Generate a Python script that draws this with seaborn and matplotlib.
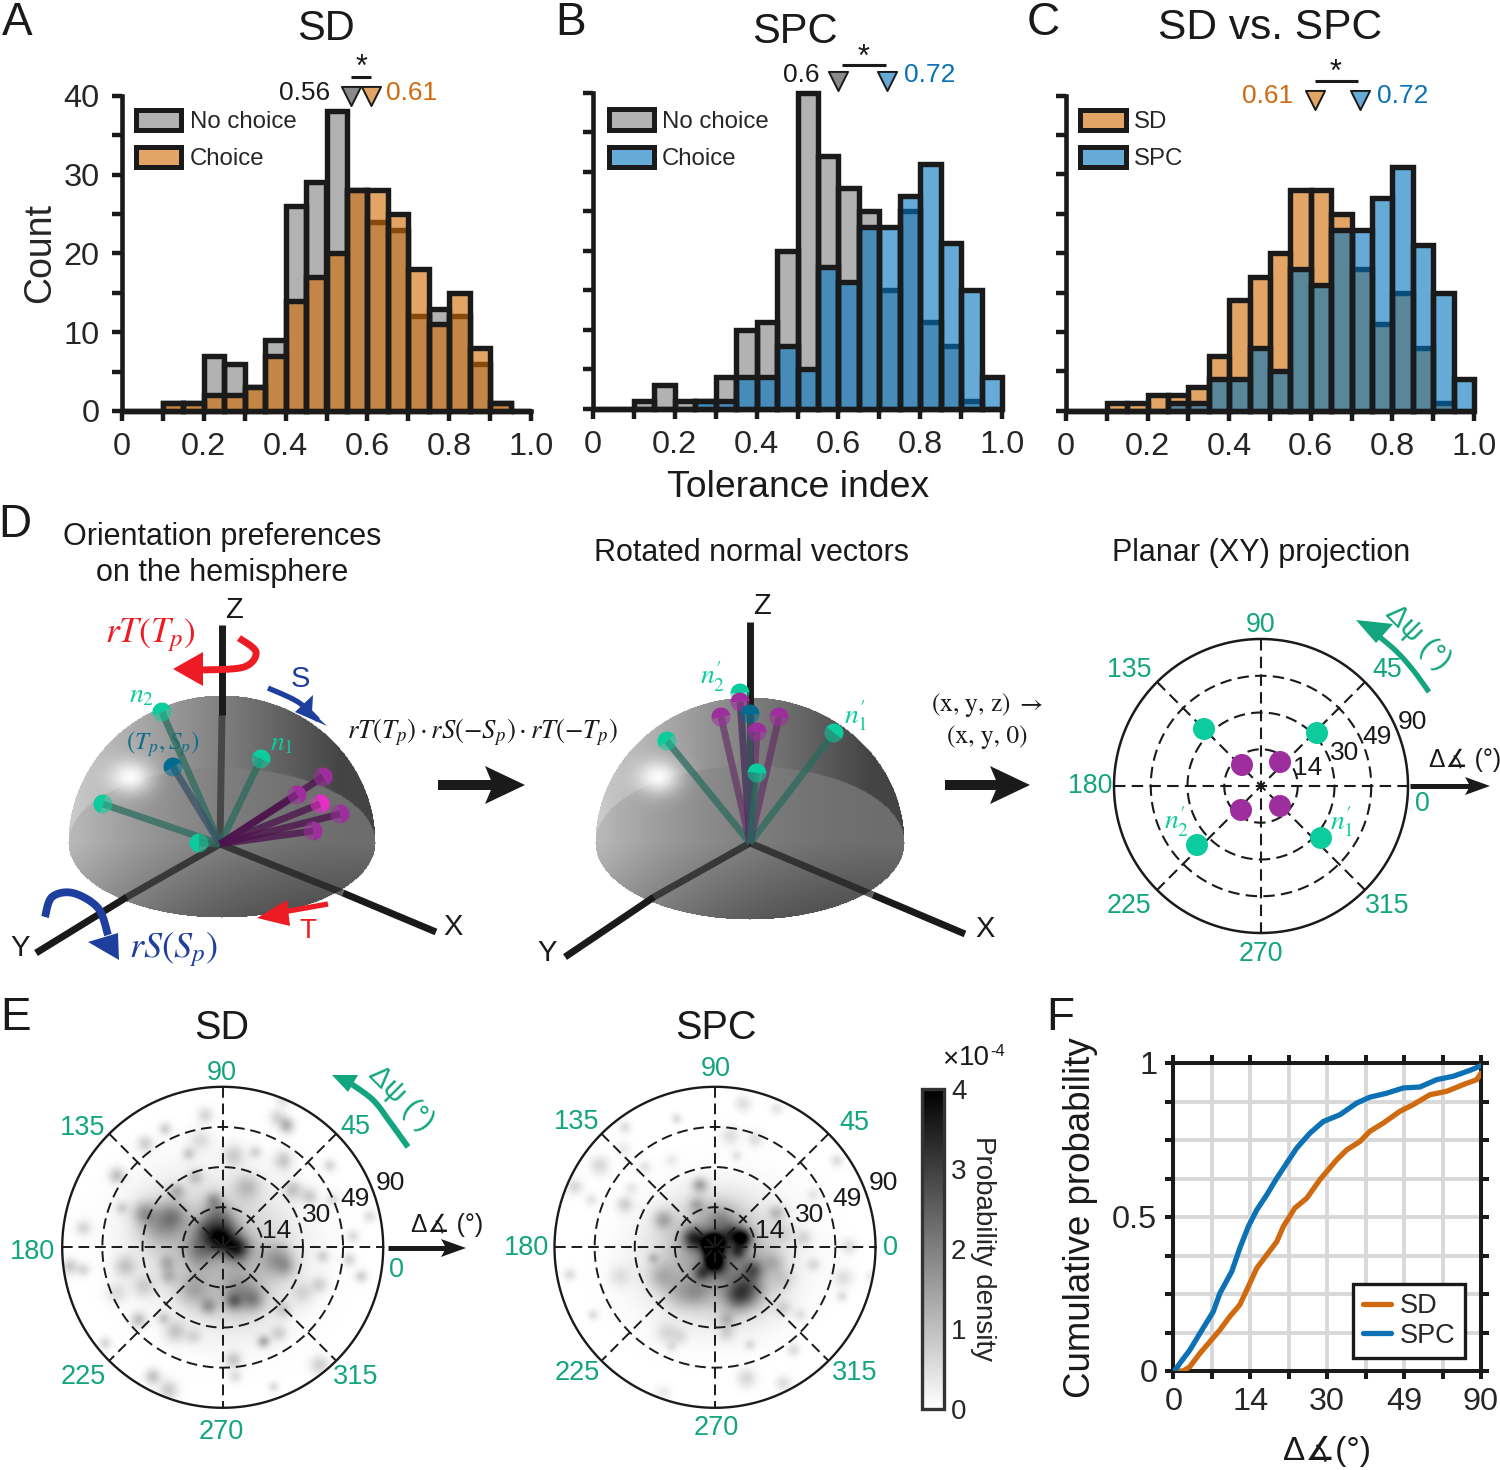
import numpy as np
import matplotlib
matplotlib.use("Agg")
import matplotlib.pyplot as plt
from matplotlib.patches import Circle, Polygon, Patch, Wedge
import seaborn as sns

sns.set_theme(style="white")
plt.rcParams["font.family"] = ["Liberation Sans", "DejaVu Sans"]
plt.rcParams["mathtext.fontset"] = "stix"

W, H = 1500, 1470

# ---------------- data ----------------
BIN_EDGES = [round(i * 0.05, 2) for i in range(21)]
BIN_CENTERS = [round(i * 0.05 + 0.025, 3) for i in range(20)]
SD_NO_CHOICE = [0, 0, 1, 1, 7, 6, 3, 9, 26, 29, 38, 28, 24, 23, 12, 13, 12, 6, 1, 0]
SD_CHOICE = [0, 0, 1, 1, 2, 2, 3, 7, 14, 17, 20, 28, 28, 25, 18, 11, 15, 8, 1, 0]
SPC_NO_CHOICE = [0, 0, 1, 3, 1, 1, 4, 10, 11, 20, 40, 32, 28, 25, 15, 25, 11, 8, 1, 0]
SPC_CHOICE = [0, 0, 0, 0, 0, 1, 1, 4, 4, 8, 5, 18, 16, 23, 23, 27, 31, 21, 15, 4]

F_TICK_LABELS = ["0", "14", "30", "49", "90"]
SD_POS = [0, .26, .43, .69, .95, 1.21, 1.47, 1.73, 1.95, 2.17, 2.43, 2.69, 2.86, 3.16, 3.47, 3.81, 4.25, 4.51, 4.85,
          5.11, 5.46, 5.89, 6.24, 6.67, 7.11, 7.54, 7.89, 8]
SD_CUM = [0, 0, .014, .057, .095, .133, .177, .215, .274, .334, .377, .42, .469, .529, .561, .621, .686, .718, .745,
          .778, .805, .843, .865, .897, .908, .93, .946, .967]
SPC_POS = [0, .06, .17, .43, .69, 1.04, 1.21, 1.52, 1.73, 1.95, 2.17, 2.43, 2.69, 2.95, 3.21, 3.55, 3.9, 4.33, 4.77,
           5.11, 5.55, 5.98, 6.41, 6.85, 7.28, 7.71, 8]
SPC_CUM = [0, .005, .025, .068, .122, .193, .252, .323, .399, .469, .523, .572, .626, .675, .724, .772, .81, .832, .87,
           .889, .902, .919, .922, .946, .957, .976, .991]

# density blobs: (x, y, amplitude, sigma) in units of 1/482 of the polar radius, origin at centre
SD_BLOBS = [(-8,-22,2.2,24),(42,3,2.4,24),(-48,-52,1.3,25),(-68,8,1.1,30),(-18,-102,1.0,25),(12,-62,1.0,25),
    (-188,-72,1.1,40),(-238,-102,.9,20),(-148,-92,.8,25),(72,-182,.8,25),(52,138,.9,35),(32,163,1.1,15),
    (92,158,.9,20),(-43,178,1.0,15),(-88,128,.8,30),(162,38,1.0,30),(192,58,.6,20),(-293,58,.8,20),
    (-163,88,.7,15),(-168,48,.7,15),(192,-367,1.2,15),(162,-392,.6,15),(182,-447,.5,15),(-53,-397,.6,15),
    (-173,-357,.7,12),(-233,-312,.7,15),(-103,-282,.7,12),(-68,-322,.5,20),(32,-277,.7,20),(97,-287,.6,12),
    (182,-262,.8,18),(322,-247,.6,12),(-318,-217,.9,15),(-418,-57,.6,15),(-303,-117,.6,12),(-458,58,.8,15),
    (-418,68,.6,12),(-253,218,.9,15),(-143,253,.8,20),(-178,213,.7,12),(122,283,1.1,12),(32,338,.8,15),
    (37,388,.5,12),(152,418,.5,10),(-210,388,.9,15),(-163,428,.8,18),(-353,288,.6,12),(292,353,.7,18),
    (417,88,.7,12),(382,38,.6,12),(442,-92,.5,12),(392,-32,.5,12),(302,28,.6,12),(262,-152,.7,15),
    (212,-172,.8,18),(292,113,.6,15),(242,138,.5,20),(167,258,.6,15),(182,188,.6,15),(-83,-212,.7,15),
    (-138,-167,.8,15),(-28,-142,.8,15),(-238,118,.6,20),(-318,138,.5,20),(-88,268,.5,15),(332,-142,.5,12),
    (0,0,.6,120),(-140,-50,.4,100),(40,120,.4,95),(100,0,.2,120)]
SPC_BLOBS = [(-5,-7,5,20),(-5,40,2.6,16),(-65,-27,2.0,20),(85,-27,2.4,16),(55,-37,1.5,20),(15,-82,.8,30),(-40,78,1.3,15),
    (70,13,1.4,15),(95,128,1.5,30),(65,153,1.0,25),(115,68,1.2,18),(5,58,1.2,20),(-45,-187,1.2,15),(-55,-127,.8,15),
    (-155,-82,1.0,18),(-160,88,.7,25),(-105,138,.6,30),(-55,138,.6,25),(35,218,.7,15),(185,-102,.8,15),
    (205,-42,.4,20),(265,-27,.5,15),(175,48,.6,20),(295,53,.5,12),(205,98,.4,20),(205,183,.5,15),(255,203,.4,12),
    (-270,-127,.7,15),(-345,-247,.6,18),(-420,-182,.6,15),(-370,-142,.4,12),(-250,-177,.35,12),(-210,-242,.4,12),
    (-115,-387,.5,10),(85,-432,.5,15),(185,-417,.4,12),(-270,-362,.5,12),(-275,-297,.3,15),(-130,-262,.3,12),
    (45,-337,.5,18),(120,-327,.5,15),(65,-277,.4,10),(-185,33,.6,10),(-285,88,.4,20),(-435,83,.5,12),
    (-365,203,.5,10),(-145,258,.5,20),(-105,268,.4,15),(-130,298,.4,10),(35,258,.5,15),(105,293,.5,10),
    (235,308,.5,12),(95,393,.6,18),(205,408,.5,15),(-155,438,.3,15),(365,-262,.5,12),(295,-157,.35,12),
    (385,93,.5,18),(380,148,.5,10),(465,88,.3,10),(400,-2,.5,15),
    (0,0,1.1,85),(70,95,.7,80),(-80,50,.5,105),(120,0,.25,110)]

ORANGE = (207/255, 105/255, 0)
BLUE = (0, 114/255, 189/255)
TXT_ORANGE, TXT_BLUE = "#CF6A10", "#0C72B5"
GREEN_TXT, GREEN = "#12A57F", "#0CCB9C"
RED, NAVY, PURPLE, TEAL = "#ED1C24", "#1F3F9F", "#9E2E9E", "#0E6E8C"

fig = plt.figure(figsize=(W / 100, H / 100), dpi=100, facecolor="white")


def px_axes(x0, x1, ytop, ybot, **kw):
    return fig.add_axes([x0 / W, 1 - ybot / H, (x1 - x0) / W, (ybot - ytop) / H], **kw)


def add_hist(ax, values, rgb, alpha):
    n = len(ax.patches)
    sns.histplot(x=BIN_CENTERS, weights=values, bins=BIN_EDGES, ax=ax, legend=False)
    for p in ax.patches[n:]:
        p.set_alpha(None)
        p.set_facecolor((*rgb, alpha))
        p.set_edgecolor("k")
        p.set_linewidth(3.9)
        p.set_clip_on(False)


def hist_panel(box, first, second, names, show_y, legend_anchor, marks, mark_y):
    ax = px_axes(*box)
    add_hist(ax, first[0], first[1], first[2])
    add_hist(ax, second[0], second[1], second[2])
    ax.set_xlim(0, 1)
    ax.set_ylim(0, 40)
    ax.set_xticks(np.round(np.arange(0, 1.01, .1), 1))
    ax.set_xticklabels(["0", "", "0.2", "", "0.4", "", "0.6", "", "0.8", "", "1.0"])
    ax.set_yticks(np.arange(0, 41, 5))
    ax.set_yticklabels(["0", "", "10", "", "20", "", "30", "", "40"] if show_y else [""] * 9)
    ax.tick_params(axis="x", bottom=True, length=7, width=3.2, labelsize=23.4, pad=8, color="k")
    ax.tick_params(axis="y", left=True, length=7, width=3.2, labelsize=23.4, pad=9, color="k")
    ax.set_xlabel("")
    ax.set_ylabel("")
    for s in ("top", "right"):
        ax.spines[s].set_visible(False)
    for s in ("left", "bottom"):
        ax.spines[s].set_linewidth(3.3)
        ax.spines[s].set_color("k")
    ax.patch.set_alpha(0)
    handles = [Patch(facecolor=(*c, a), edgecolor="k", linewidth=3.6) for _, c, a in (first, second)]
    ax.legend(handles, names, loc="upper left", bbox_to_anchor=legend_anchor, borderaxespad=0, borderpad=0,
              frameon=False, fontsize=17.3, handlelength=1.88, handleheight=.92, labelspacing=.58,
              handletextpad=.35)
    for val, col in marks:
        ax.scatter([val], [mark_y], marker="v", s=190, color=col, edgecolor="k", linewidth=1.4,
                   clip_on=False, zorder=5)
    return ax


axA = hist_panel((122, 531, 95.7, 411), (SD_NO_CHOICE, (0, 0, 0), .3), (SD_CHOICE, ORANGE, .6),
                 ["No choice", "Choice"], True, (.035, .956),
                 [(.56, "#8A8A8A"), (.61, "#E2A566")], 40.0)
axB = hist_panel((593, 1002, 93, 408.7), (SPC_NO_CHOICE, (0, 0, 0), .3), (SPC_CHOICE, BLUE, .6),
                 ["No choice", "Choice"], False, (.038, .948),
                 [(.6, "#8A8A8A"), (.72, "#66AAD7")], 41.5)
axC = hist_panel((1066, 1474, 95.7, 410.7), (SD_CHOICE, ORANGE, .6), (SPC_CHOICE, BLUE, .6),
                 ["SD", "SPC"], False, (.0355, .956),
                 [(.61, "#E2A566"), (.72, "#66AAD7")], 39.5)
axA.set_ylabel("Count", fontsize=27, labelpad=4)


# ---------------- panel E heatmaps ----------------
def density(blobs, n=322):
    g = (np.arange(n) + .5 - n / 2) * 482 / (n / 2)
    X, Y = np.meshgrid(g, g)
    D = np.zeros_like(X)
    for bx, by, a, s in blobs:
        s = s * 1.12
        D += a * np.exp(-((X - bx) ** 2 + (Y - by) ** 2) / (2 * s ** 2))
    return D


def polar_heat(cx, cy, R, blobs, cax=None):
    ax = px_axes(cx - R, cx + R, cy - R, cy + R)
    D = density(blobs)
    n = D.shape[0]
    kw = dict(cbar=False) if cax is None else dict(cbar=True, cbar_ax=cax, cbar_kws={"ticks": [0, 1, 2, 3, 4]})
    sns.heatmap(D, ax=ax, cmap="gray_r", vmin=0, vmax=4, xticklabels=False, yticklabels=False, **kw)
    mesh = ax.collections[0]
    mesh.set_clip_path(Circle((n / 2, n / 2), n / 2, transform=ax.transData))
    ax.set_axis_off()
    return mesh


cax = px_axes(922, 944, 1089, 1409)
polar_heat(222.7, 1247.3, 160.5, SD_BLOBS)
mesh = polar_heat(715, 1247.3, 160.5, SPC_BLOBS, cax=cax)
cb = mesh.colorbar
cb.outline.set_edgecolor("#333333")
cb.outline.set_linewidth(2.4)
cax.tick_params(right=True, direction="in", length=3, width=1, color="#444444", labelsize=20, pad=5)
cb.set_label("Probability density", rotation=270, fontsize=20, labelpad=21)

# ---------------- panel F ----------------
axF = px_axes(1173.3, 1481, 1063, 1371)
sns.lineplot(x=SD_POS, y=SD_CUM, ax=axF, color=TXT_ORANGE, lw=3.8, estimator=None, sort=False, label="SD", zorder=4)
sns.lineplot(x=SPC_POS, y=SPC_CUM, ax=axF, color=TXT_BLUE, lw=3.8, estimator=None, sort=False, label="SPC", zorder=5)
axF.set_xlim(0, 8)
axF.set_ylim(0, 1)
axF.set_xticks(range(9))
axF.set_xticklabels([F_TICK_LABELS[i // 2] if i % 2 == 0 else "" for i in range(9)])
axF.set_yticks(np.arange(0, 1.01, .125))
axF.set_yticklabels(["0", "", "", "", "0.5", "", "", "", "1"])
axF.grid(True, color="#D8D8D8", lw=2.8)
axF.set_axisbelow(True)
axF.tick_params(axis="both", length=5.5, width=2.9, color="k", labelsize=23.3, pad=6,
                bottom=True, top=True, left=True, right=True)
for s in axF.spines.values():
    s.set_linewidth(2.9)
    s.set_color("k")
leg = axF.legend(loc="lower right", bbox_to_anchor=(.948, .042), borderaxespad=0, fancybox=False, framealpha=1,
                 edgecolor="k", fontsize=19.5, handlelength=1.05, handletextpad=.32, labelspacing=.12, borderpad=.35)
leg.get_frame().set_linewidth(2.4)
for ln in leg.get_lines():
    ln.set_linewidth(3.8)
axF.set_xlabel("")
axF.set_ylabel("")

# ---------------- overlay in pixel coordinates ----------------
ov = fig.add_axes([0, 0, 1, 1], zorder=20)
ov.set_xlim(0, W)
ov.set_ylim(H, 0)
ov.axis("off")
ov.patch.set_alpha(0)
ov.set_autoscale_on(False)


def T(x, y, s, size=18, color="k", rot=0, **kw):
    ov.text(x, y, s, fontsize=size, color=color, rotation=rot, ha="center", va="center",
            rotation_mode="anchor" if rot not in (0, 90) else "default", **kw)


def seg(p0, p1, color="k", lw=5.0, z=3):
    ov.plot([p0[0], p1[0]], [p0[1], p1[1]], color=color, lw=lw, solid_capstyle="butt", zorder=z)


def smooth(pts, n=16):
    P = np.array([pts[0]] + list(pts) + [pts[-1]], float)
    out = []
    for i in range(1, len(P) - 2):
        for t in np.linspace(0, 1, n, endpoint=False):
            out.append(.5 * (2 * P[i] + (P[i + 1] - P[i - 1]) * t + (2 * P[i - 1] - 5 * P[i] + 4 * P[i + 1] - P[i + 2]) * t ** 2
                             + (3 * P[i] - P[i - 1] - 3 * P[i + 1] + P[i + 2]) * t ** 3))
    out.append(P[-2])
    return np.array(out)


def curved(pts, head, color, lw, z=8):
    c = smooth(pts)
    ov.plot(c[:, 0], c[:, 1], color=color, lw=lw, solid_capstyle="butt", zorder=z)
    ov.add_patch(Polygon(head, closed=True, fc=color, ec="none", zorder=z))


def big_arrow(x0, x1, y, shaft, hl, hw, notch=.2, color="k", z=8):
    seg((x0, y), (x1 - hl * .8, y), color=color, lw=shaft * .72, z=z)
    ov.add_patch(Polygon([(x1, y), (x1 - hl, y - hw), (x1 - hl * (1 - notch), y), (x1 - hl, y + hw)],
                         closed=True, fc=color, ec="none", zorder=z))


def polar_grid(cx, cy, R, lw=1.5):
    th = np.deg2rad(np.arange(0, 360.5, 1))
    for f in (.25, .5, .75):
        ov.plot(cx + f * R * np.cos(th), cy + f * R * np.sin(th), color="k", lw=lw, dashes=(5.5, 3), zorder=4)
    for a in (0, 45, 90, 135):
        r = np.deg2rad(a)
        ov.plot([cx - R * np.cos(r), cx + R * np.cos(r)], [cy - R * np.sin(r), cy + R * np.sin(r)],
                color="k", lw=lw, dashes=(5.5, 3), zorder=4)
    ov.plot(cx + R * np.cos(th), cy + R * np.sin(th), color="k", lw=lw + .3, zorder=5)


def hemisphere(cx, cy, a=154, top=148, bot=75):
    xs = np.arange(cx - a - 3, cx + a + 4)
    ys = np.arange(cy - top - 3, cy + bot + 4)
    X, Y = np.meshgrid(xs, ys)
    u = (X - cx) / a
    v_up = (Y - cy) / top
    v_dn = (Y - cy) / bot
    dome = ((Y <= cy) & (u ** 2 + v_up ** 2 <= 1)) | ((Y > cy) & (u ** 2 + v_dn ** 2 <= 1))
    disc = u ** 2 + v_dn ** 2 <= 1
    g = np.clip(.5 - .3 * u, .27, 1)
    gd = .5 - .15 * u + .08 * u ** 2 - .14 * np.clip(v_dn, 0, 1)
    g = np.where(disc, gd, g)
    hl = np.exp(-(((X - cx + 92) / 22) ** 2 + ((Y - cy + 66) / 17) ** 2))
    g = np.clip(g + (1 - g) * hl * .95, 0, 1)
    img = np.dstack([g, g, g, dome.astype(float)])
    ov.imshow(img, extent=(xs[0], xs[-1], ys[-1], ys[0]), aspect="auto", interpolation="bilinear", zorder=1)


def stick(o, p, color, stick_rgba, r=9.5, lw=5):
    ov.plot([o[0], p[0]], [o[1], p[1]], color=stick_rgba, lw=lw, solid_capstyle="butt", zorder=6)
    ang = np.degrees(np.arctan2(p[1] - o[1], p[0] - o[0]))
    ov.add_patch(Wedge(p, r, ang - 90, ang + 90, fc=color, ec="none", zorder=7))
    ov.add_patch(Wedge(p, r, ang + 90, ang + 270, fc=color, ec="none", alpha=.55, zorder=7))


# panel letters and headings
for x, y, s in [(17, 23, "A"), (571, 23, "B"), (1043, 23, "C"), (15, 525, "D"), (16, 1018, "E"), (1060, 1018, "F")]:
    T(x, y, s, 33)
T(326, 29, "SD", 30)
T(795, 32, "SPC", 30)
T(1270, 28, "SD vs. SPC", 30.6)
T(798, 487, "Tolerance index", 26.9)
T(305, 93, "0.56", 19)
T(412, 93, "0.61", 19, TXT_ORANGE)
T(801, 75, "0.6", 19)
T(930, 75, "0.72", 19, TXT_BLUE)
T(1268, 96, "0.61", 19, TXT_ORANGE)
T(1403, 96, "0.72", 19, TXT_BLUE)
for x0, x1, y, sx, sy in [(351, 371, 77, 361, 68), (842, 886, 65, 864, 58), (1315, 1358, 81, 1336, 73)]:
    seg((x0, y), (x1, y), lw=2.2)
    T(sx, sy, "*", 22)

# D headings
T(222, 537, "Orientation preferences", 22)
T(222, 573, "on the hemisphere", 22)
T(752, 553, "Rotated normal vectors", 22)
T(1261, 553, "Planar (XY) projection", 22)

# left hemisphere
O1 = (220, 844)
hemisphere(222, 843)
seg((222, 625), (222, 715))
seg((222, 715), O1, color=(.1, .1, .1, .55), z=4)
seg(O1, (127, 897), color=(.1, .1, .1, .7), z=4)
seg((127, 897), (36, 953))
seg(O1, (343, 893), color=(.1, .1, .1, .7), z=4)
seg((343, 893), (436, 932))
GS = (.16, .42, .36, .72)
PS = (.30, .08, .30, .78)
for p in [(162, 712), (261, 759), (103, 804), (199, 843)]:
    stick(O1, p, GREEN, GS)
stick(O1, (173, 767), "#006B8F", (.22, .32, .40, .75))
for p, c in [((323, 777), PURPLE), ((297, 795), PURPLE), ((320, 804), "#E82CC8"), ((340, 814), PURPLE), ((313, 831), PURPLE)]:
    stick(O1, p, c, PS)
curved([(239, 638), (256, 652), (244, 667), (203, 670)], [(173, 669), (203, 652), (203, 686)], RED, 5.0)
curved([(268, 688), (298, 702), (318, 720)], [(327, 726), (295, 712), (313, 695), (312, 712)], NAVY, 3.8)
curved([(328, 904), (283, 912)], [(257, 918), (287, 900), (290, 926)], RED, 3.8)
curved([(45, 917), (52, 897), (73, 893), (98, 908), (108, 935)], [(119, 960), (88, 942), (118, 933)], NAVY, 5.6)
T(150, 635, r"$rT(T_p)$", 25.5, RED)
T(300, 679, "S", 21, NAVY)
T(308, 931, "T", 20, RED)
T(173, 950, r"$rS(S_p)$", 26, NAVY)
T(142, 695, r"$n_2$", 20, GREEN)
T(282, 743, r"$n_1$", 20, GREEN)
T(163, 744, r"$(T_p, S_p)$", 18, TEAL)
T(234, 610, "Z", 21)
T(453, 927, "X", 21)
T(20, 948, "Y", 21)
T(482, 732, r"$rT(T_p)\cdot rS(-S_p)\cdot rT(-T_p)$", 19.3)
big_arrow(438, 525, 785, 10, 40, 19)

# middle hemisphere
O2 = (750, 843)
hemisphere(750, 843, a=155, top=146, bot=77)
seg((750, 622), (750, 707))
seg((750, 707), O2, color=(.1, .1, .1, .55), z=4)
seg(O2, (654, 897), color=(.1, .1, .1, .7), z=4)
seg((654, 897), (565, 957))
seg(O2, (873, 895), color=(.1, .1, .1, .7), z=4)
seg((873, 895), (965, 934))
for p in [(740, 693), (667, 741), (834, 733)]:
    stick(O2, p, GREEN, GS)
for p in [(740, 702), (721, 717), (779, 717), (757, 732)]:
    stick(O2, p, PURPLE, (.38, .14, .38, .6))
stick(O2, (750, 714), "#006B8F", (.22, .32, .40, .6))
stick(O2, (757, 773), GREEN, GS)
T(762, 606, "Z", 21)
T(985, 929, "X", 21)
T(547, 953, "Y", 21)
T(713, 677, r"$n_2'$", 20, GREEN)
T(856, 716, r"$n_1'$", 20, GREEN)
T(987, 705, "(x, y, z) $\\rightarrow$", 18.3, family="STIXGeneral")
T(987, 737, "(x, y, 0)", 18.3, family="STIXGeneral")
big_arrow(945, 1030, 785, 10, 40, 19)

# planar projection
polar_grid(1261, 786, 147, lw=1.5)
for p in [(1204, 729), (1317, 733), (1197, 845), (1321, 838)]:
    ov.add_patch(Circle(p, 11, fc=GREEN, ec="none", zorder=7))
for p in [(1242, 765), (1280, 762), (1241, 810), (1280, 806)]:
    ov.add_patch(Circle(p, 11, fc=PURPLE, ec="none", zorder=7))
for x, y, s in [(1261, 625, "90"), (1129, 670, "135"), (1387, 670, "45"), (1090, 786, "180"), (1422, 804, "0"),
                (1129, 906, "225"), (1387, 906, "315"), (1261, 954, "270")]:
    T(x, y, s, 19.3, GREEN_TXT)
for x, y, s in [(1308, 768, "14"), (1345, 753, "30"), (1377, 737, "49"), (1412, 722, "90")]:
    T(x, y, s, 19, zorder=9)
T(1177, 822, r"$n_2'$", 20, GREEN, zorder=9)
T(1342, 822, r"$n_1'$", 20, GREEN, zorder=9)
T(1465, 760, "Δ∡ (°)", 17.8)
big_arrow(1410, 1490, 786, 5, 25, 9)
curved([(1429, 692), (1413, 670), (1396, 651), (1376, 634)], [(1356, 620), (1393, 624), (1376, 643)], GREEN_TXT, 3.8)
T(1418, 637, "Δψ (°)", 21, GREEN_TXT, rot=-45)

# panel E overlays
polar_grid(222.7, 1247.3, 160.5, lw=1.4)
polar_grid(715, 1247.3, 160.5, lw=1.4)
for x, y, s in [(222, 1073, "90"), (83, 1128, "135"), (355, 1127, "45"), (32, 1252, "180"), (397, 1270, "0"),
                (83, 1377, "225"), (356, 1377, "315"), (221, 1432, "270"),
                (716, 1069, "90"), (577, 1122, "135"), (854, 1123, "45"), (526, 1248, "180"), (890, 1248, "0"),
                (577, 1373, "225"), (855, 1373, "315"), (716, 1428, "270")]:
    T(x, y, s, 19.5, GREEN_TXT)
for x, y, s in [(277, 1231, "14"), (317, 1215, "30"), (355, 1199, "49"), (390, 1183, "90"),
                (770, 1231, "14"), (810, 1215, "30"), (847, 1199, "49"), (883, 1183, "90")]:
    T(x, y, s, 19, zorder=9)
T(222, 1028, "SD", 28.5)
T(716, 1028, "SPC", 28.5)
T(447, 1225, "Δ∡ (°)", 17.8)
big_arrow(388, 466, 1248, 5, 25, 9)
curved([(408, 1147), (390, 1122), (373, 1100), (350, 1083)], [(332, 1075), (358, 1075), (348, 1092)], GREEN_TXT, 4.2)
T(401, 1098, "Δψ (°)", 21, GREEN_TXT, rot=-45)
T(950, 1060, "×", 20)
T(974, 1058, "10", 20)
T(998, 1052, "-4", 12)

# panel F labels
T(1080, 1218, "Cumulative probability", 26.4, rot=90)
T(1327, 1451, "Δ∡(°)", 24)

fig.savefig("out.png", dpi=100, facecolor="white")
